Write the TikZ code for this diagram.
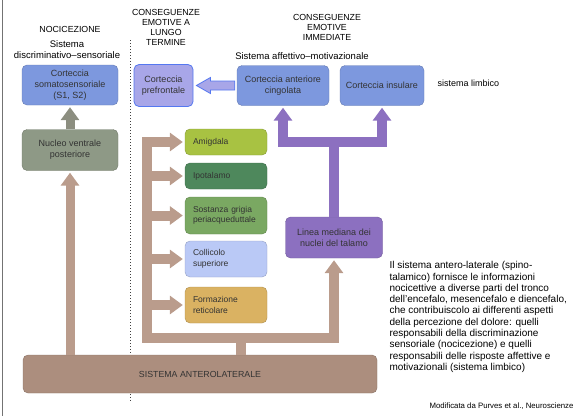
\documentclass[tikz,border=0pt]{standalone}
\usepackage{fontspec}
\setmainfont{Liberation Sans}
\usetikzlibrary{arrows.meta,calc}
\definecolor{blucx}{RGB}{125,152,222}
\definecolor{lavanda}{RGB}{168,166,232}
\definecolor{bluvivo}{RGB}{85,120,240}
\definecolor{grigioverde}{RGB}{142,153,134}
\definecolor{grigiofr}{RGB}{140,142,128}
\definecolor{brunoc}{RGB}{186,156,140}
\definecolor{brunos}{RGB}{172,142,126}
\definecolor{violac}{RGB}{140,112,192}
\definecolor{giallov}{RGB}{168,194,66}
\definecolor{verdes}{RGB}{78,136,92}
\definecolor{verdem}{RGB}{122,168,98}
\definecolor{azzurro}{RGB}{186,201,246}
\definecolor{ocra}{RGB}{218,178,98}

\begin{document}
\begin{tikzpicture}[x=1pt,y=-1pt,
   >={Triangle[width=18pt,length=13pt]},
   scatola/.style={draw=#1!80!black,fill=#1,rounded corners=5pt,text=black!80,
      align=center,font=\fontsize{9}{11}\selectfont,inner sep=2pt},
   area/.style={scatola=#1,align=left,text width=66pt,inner xsep=8pt,
      font=\fontsize{8.5}{10.5}\selectfont},
   titolo/.style={align=center,font=\fontsize{8.8}{10}\selectfont},
   marrone/.style={draw=brunoc,line width=10pt,shorten >=2pt,shorten <=2pt},
   viola/.style={draw=violac,line width=10pt,shorten >=2pt,shorten <=2pt},
   grigio/.style={draw=grigiofr,line width=9pt,shorten >=2pt}]
   \useasboundingbox (0,0) rectangle (580,416);
   \draw[black!55,line width=1pt] (2.5,0)--(2.5,416);
   \draw[black!75,line width=0.9pt,dash pattern=on 0.9pt off 2.1pt] (130,40)--(130,402);

   \node[titolo] (noci) at (70,29) {NOCICEZIONE};
   \node[align=center,font=\fontsize{9.5}{11}\selectfont] (sds) at (67,50) {Sistema\\discriminativo–sensoriale};
   \node[titolo] (lungo) at (166,27) {CONSEGUENZE\\EMOTIVE A\\LUNGO\\TERMINE};
   \node[titolo] (imm) at (327,27) {CONSEGUENZE\\EMOTIVE\\IMMEDIATE};
   \node[font=\fontsize{9.5}{11}\selectfont] (sam) at (302,56) {Sistema affettivo–motivazionale};

   \node[scatola=blucx,minimum width=96pt,minimum height=40pt] (css) at (70,85) {Corteccia\\somatosensoriale\\(S1, S2)};
   \node[scatola=lavanda,draw=bluvivo,line width=0.8pt,minimum width=59pt,minimum height=42pt] (pfr) at (163.5,85.5) {Corteccia\\prefrontale};
   \node[scatola=blucx,minimum width=92pt,minimum height=40pt] (aci) at (283,85.5) {Corteccia anteriore\\cingolata};
   \node[scatola=blucx,minimum width=84pt,minimum height=40pt] (ins) at (382,85.5) {Corteccia insulare};
   \node[anchor=west,font=\fontsize{9}{11}\selectfont] (lim) at (434,83) {sistema limbico};
   \node[scatola=grigioverde,minimum width=96pt,minimum height=41pt] (nvp) at (70,150) {Nucleo ventrale\\posteriore};

   \node[area=giallov,minimum height=26pt] (ami) at (226,142) {Amigdala};
   \node[area=verdes,minimum height=26pt] (ipo) at (226,176) {Ipotalamo};
   \node[area=verdem,minimum height=37pt] (sgp) at (226,215.5) {Sostanza grigia\\periacqueduttale};
   \node[area=azzurro,minimum height=36pt] (col) at (226,259) {Collicolo\\superiore};
   \node[area=ocra,minimum height=36pt] (frm) at (226,305) {Formazione\\reticolare};

   \node[scatola=violac,minimum width=97pt,minimum height=41pt] (lmt) at (334,237.5) {Linea mediana dei\\nuclei del talamo};
   \node[scatola=brunos,minimum width=354pt,minimum height=38pt,font=\fontsize{8.8}{10}\selectfont] (sal) at (200,374) {SISTEMA ANTEROLATERALE};

   \node[anchor=north west,align=left,font=\fontsize{10}{11.3}\selectfont] (testo) at (386,258) {Il sistema antero-laterale (spino-\\talamico) fornisce le informazioni\\nocicettive a diverse parti del tronco\\dell’encefalo, mesencefalo e diencefalo,\\che contribuiscolo ai differenti aspetti\\della percezione del dolore: quelli\\responsabili della discriminazione\\sensoriale (nocicezione) e quelli\\responsabili delle risposte affettive e\\motivazionali (sistema limbico)};
   \node[anchor=east,font=\fontsize{7.8}{9}\selectfont] (fonte) at (577,406) {Modificata da Purves et al., Neuroscienze};

   \draw[marrone,line width=9pt,->,shorten <=0pt] (sal.north -| nvp.south)--(nvp.south);
   \draw[grigio,->] (nvp.north)--(css.south);
   \coordinate (sx) at (147,338);
   \coordinate (nodo) at (241,338);
   \draw[marrone,shorten <=0pt,shorten >=0pt] (sal.north -| nodo)--(nodo);
   \draw[marrone,<->] (lmt.south)--(lmt.south |- sx)--(sx)--(sx |- ami.west)--(ami.west);
   \foreach \b in {ipo,sgp,col,frm}
      \draw[marrone,->,shorten <=0pt] (sx |- \b.west)--(\b.west);
   \coordinate (bv) at (lmt.north |- 0,142);
   \draw[viola,shorten <=0pt,shorten >=0pt] (lmt.north)--(bv);
   \draw[viola,<->] (aci.south)--(aci.south |- bv)--(ins.south |- bv)--(ins.south);
   \draw[draw=bluvivo,fill=lavanda,line width=0.8pt] ([xshift=3pt]pfr.east)--++(14,-8)--++(0,3.5)--([xshift=-2pt,yshift=4.5pt]aci.west)
      --([xshift=-2pt,yshift=-4.5pt]aci.west)--([xshift=17pt,yshift=-4.5pt]pfr.east)--++(0,3.5)--cycle;
\end{tikzpicture}
\end{document}
